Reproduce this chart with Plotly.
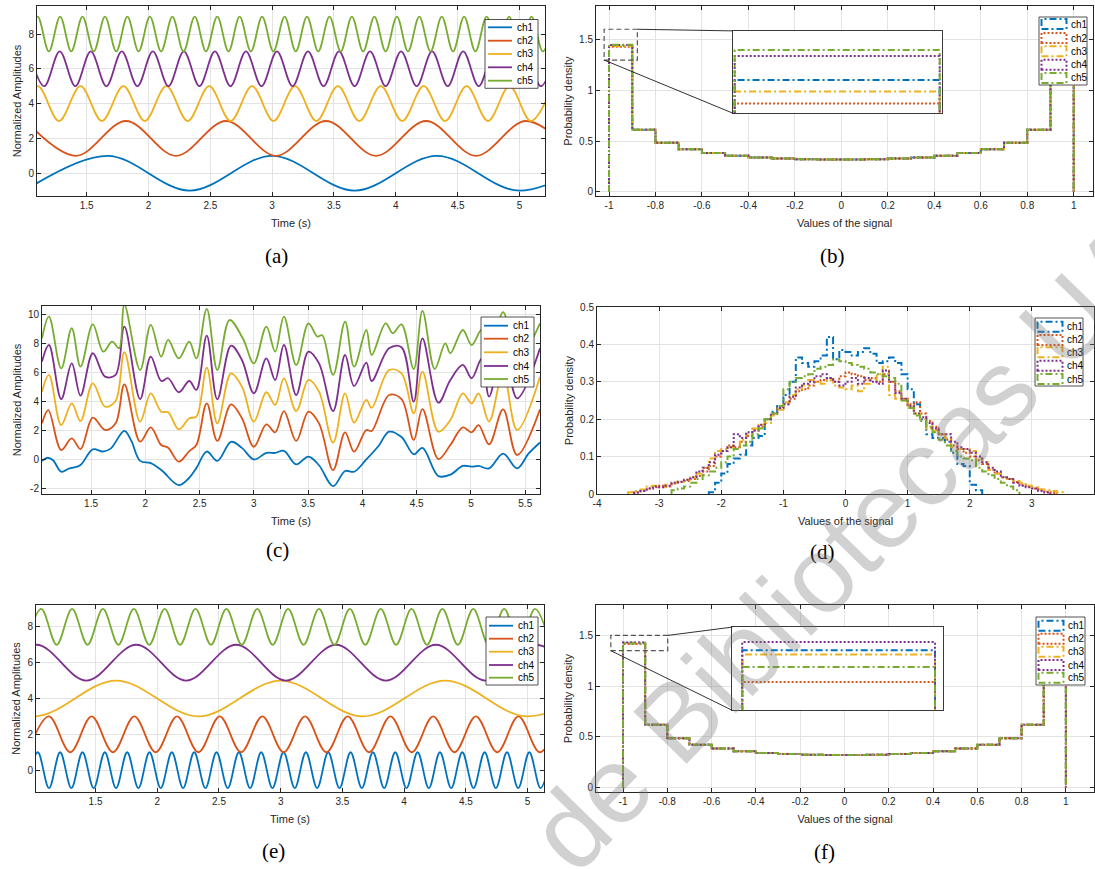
import plotly.graph_objects as go

W, H = 1095, 869
NAMES = ["ch1", "ch2", "ch3", "ch4", "ch5"]
COLORS = ["#0072BD", "#D95319", "#EDB120", "#7E2F8E", "#77AC30"]
LINE_W = 1.8
HIST_W = 2.0
HIST_DASH = ["7px,3px,2px,3px", "2px,2px", "7px,3px,2px,3px", "2px,2px", "7px,3px,2px,3px"]

# ---------------- panel (a): sinusoid extrema (time, value) ----------------
a_ch1_t = [1.0, 1.667, 2.333, 3.0, 3.667, 4.333, 5.0, 5.667]
a_ch1_y = [-1, 1, -1, 1, -1, 1, -1, 1]
a_ch2_t = [1.008, 1.413, 1.818, 2.222, 2.627, 3.031, 3.436, 3.840, 4.245, 4.649, 5.054, 5.458]
a_ch2_y = [3, 1, 3, 1, 3, 1, 3, 1, 3, 1, 3, 1]
a_ch3_t = [0.929, 1.103, 1.276, 1.450, 1.623, 1.797, 1.970, 2.144, 2.317, 2.491, 2.664, 2.838, 3.011,
           3.185, 3.358, 3.532, 3.705, 3.879, 4.052, 4.226, 4.399, 4.573, 4.746, 4.920, 5.093, 5.267]
a_ch3_y = [3, 5, 3, 5, 3, 5, 3, 5, 3, 5, 3, 5, 3, 5, 3, 5, 3, 5, 3, 5, 3, 5, 3, 5, 3, 5]
a_ch4_t = [1.031, 1.157, 1.282, 1.408, 1.533, 1.659, 1.784, 1.910, 2.035, 2.161, 2.286, 2.412,
           2.537, 2.663, 2.788, 2.914, 3.039, 3.165, 3.290, 3.416, 3.541, 3.667, 3.792, 3.918,
           4.043, 4.169, 4.294, 4.420, 4.545, 4.671, 4.796, 4.922, 5.047, 5.173, 5.298]
a_ch4_y = [7, 5, 7, 5, 7, 5, 7, 5, 7, 5, 7, 5, 7, 5, 7, 5, 7, 5, 7, 5, 7, 5, 7, 5,
           7, 5, 7, 5, 7, 5, 7, 5, 7, 5, 7]
a_ch5_t = [1.012, 1.103, 1.194, 1.285, 1.375, 1.466, 1.557, 1.648, 1.739, 1.829, 1.920, 2.011,
           2.102, 2.193, 2.283, 2.374, 2.465, 2.556, 2.647, 2.737, 2.828, 2.919, 3.010, 3.101,
           3.191, 3.282, 3.373, 3.464, 3.555, 3.645, 3.736, 3.827, 3.918, 4.009, 4.099, 4.190,
           4.281, 4.372, 4.463, 4.553, 4.644, 4.735, 4.826, 4.917, 5.007, 5.098, 5.189, 5.280]
a_ch5_y = [7, 9, 7, 9, 7, 9, 7, 9, 7, 9, 7, 9, 7, 9, 7, 9, 7, 9, 7, 9, 7, 9, 7, 9,
           7, 9, 7, 9, 7, 9, 7, 9, 7, 9, 7, 9, 7, 9, 7, 9, 7, 9, 7, 9, 7, 9, 7, 9]

# ---------------- panel (c): traced signal points (time, value) ----------------
c_ch1_t = [1.048, 1.10, 1.15, 1.225, 1.30, 1.40, 1.516, 1.61, 1.68, 1.807, 1.87, 1.952, 2.05, 2.15,
           2.308, 2.40, 2.47, 2.566, 2.663, 2.79, 2.89, 3.0, 3.115, 3.196, 3.277, 3.39, 3.503, 3.60,
           3.73, 3.84, 3.923, 4.036, 4.15, 4.246, 4.36, 4.473, 4.553, 4.70, 4.81, 4.925, 5.006, 5.07,
           5.167, 5.296, 5.425, 5.53, 5.636]
c_ch1_y = [-0.10, 0.12, -0.05, -0.85, -0.62, -0.40, 0.70, 0.55, 0.75, 1.98, 1.30, -0.10, -0.25, -0.75,
           -1.78, -1.30, -0.60, 0.55, -0.10, 1.22, 0.80, 0.0, 0.45, 0.45, 0.60, -0.34, 0.20, -0.40,
           -1.85, -0.80, -0.85, 0.0, 0.95, 1.92, 1.55, 0.36, 0.80, -1.15, -1.05, -0.45, -0.50, -0.45,
           -0.62, 0.40, -0.62, 0.40, 1.18]
c_ch2_t = [1.048, 1.106, 1.225, 1.322, 1.403, 1.516, 1.629, 1.726, 1.807, 1.952, 2.05, 2.146, 2.21,
           2.308, 2.405, 2.47, 2.566, 2.663, 2.79, 2.89, 3.0, 3.115, 3.196, 3.277, 3.39, 3.503, 3.6,
           3.73, 3.84, 3.923, 4.036, 4.085, 4.246, 4.36, 4.473, 4.553, 4.70, 4.81, 4.925, 5.006, 5.07,
           5.167, 5.296, 5.425, 5.636]
c_ch2_y = [2.50, 3.42, 0.65, 1.46, 0.72, 2.89, 2.04, 2.50, 5.20, 1.23, 2.22, 1.00, 0.81,
           -0.15, 0.58, 1.00, 3.88, 1.28, 3.81, 2.85, 0.88, 2.43, 1.88, 3.35, 1.28, 3.31, 2.50,
           -0.73, 1.88, 0.54, 2.04, 1.97, 4.46, 4.18, 1.35, 3.49, 0.03, 1.00, 2.22, 1.88, 2.38,
           1.05, 3.47, 0.31, 3.47]
c_ch3_t = [1.048, 1.112, 1.225, 1.322, 1.403, 1.516, 1.629, 1.726, 1.807, 1.952, 2.05, 2.146, 2.21,
           2.308, 2.405, 2.47, 2.566, 2.663, 2.79, 2.89, 3.0, 3.115, 3.196, 3.277, 3.39, 3.503, 3.6,
           3.73, 3.84, 3.923, 4.036, 4.085, 4.246, 4.36, 4.473, 4.553, 4.70, 4.81, 4.925, 5.006, 5.07,
           5.167, 5.296, 5.425, 5.636]
c_ch3_y = [4.69, 5.85, 2.38, 3.88, 2.66, 5.27, 3.65, 4.05, 7.42, 2.62, 4.58, 3.31, 3.26,
           2.08, 2.85, 2.96, 6.35, 2.50, 5.96, 5.04, 2.62, 4.65, 3.77, 5.61, 3.35, 5.50, 4.69,
           1.16, 4.58, 2.55, 4.12, 3.58, 6.19, 5.96, 3.19, 6.08, 1.92, 2.73, 4.58, 3.88, 4.58,
           2.62, 6.00, 2.04, 5.73]
c_ch4_t = [1.048, 1.112, 1.225, 1.322, 1.403, 1.516, 1.629, 1.726, 1.807, 1.952, 2.05, 2.146, 2.21,
           2.308, 2.405, 2.47, 2.566, 2.663, 2.79, 2.89, 3.0, 3.115, 3.196, 3.277, 3.39, 3.503, 3.6,
           3.73, 3.84, 3.923, 4.036, 4.085, 4.246, 4.36, 4.473, 4.553, 4.70, 4.81, 4.925, 5.006, 5.10,
           5.167, 5.296, 5.425, 5.636]
c_ch4_y = [6.77, 7.92, 4.18, 6.65, 4.42, 7.35, 5.73, 5.85, 9.19, 4.18, 7.12, 5.43, 5.62,
           4.65, 5.43, 4.81, 8.57, 4.16, 7.88, 6.88, 4.58, 7.00, 5.50, 7.92, 4.46, 7.46, 6.65,
           3.35, 7.23, 5.08, 6.70, 5.43, 7.69, 7.76, 4.00, 8.38, 3.93, 5.50, 6.54, 5.62, 7.00,
           4.35, 7.81, 4.23, 7.69]
c_ch5_t = [1.048, 1.112, 1.225, 1.322, 1.403, 1.516, 1.613, 1.694, 1.758, 1.807, 1.952, 2.05, 2.146,
           2.21, 2.308, 2.405, 2.47, 2.566, 2.663, 2.776, 2.90, 3.0, 3.115, 3.196, 3.277, 3.39, 3.503,
           3.585, 3.63, 3.73, 3.84, 3.923, 4.036, 4.085, 4.214, 4.28, 4.36, 4.473, 4.553, 4.666, 4.763,
           4.81, 4.925, 5.006, 5.10, 5.167, 5.296, 5.425, 5.636]
c_ch5_y = [8.38, 9.88, 6.31, 9.08, 6.42, 9.35, 7.46, 8.15, 7.69, 10.70, 6.19, 9.31, 7.12,
           8.27, 7.00, 8.15, 7.00, 10.42, 6.19, 9.65, 8.35, 6.65, 9.19, 7.46, 9.88, 6.54, 9.42,
           8.50, 8.60, 5.85, 9.54, 6.42, 8.96, 7.23, 9.42, 8.73, 9.35, 6.26, 10.28, 6.26, 8.04,
           7.35, 8.96, 7.92, 9.00, 7.00, 10.20, 6.88, 9.42]

# ---------------- panel (e): sinusoid extrema ----------------
e_ch1_t = [0.942, 1.032, 1.123, 1.213, 1.304, 1.394, 1.485, 1.575, 1.666, 1.756, 1.847, 1.937,
           2.028, 2.118, 2.209, 2.299, 2.390, 2.480, 2.571, 2.661, 2.752, 2.842, 2.933, 3.023,
           3.114, 3.204, 3.295, 3.385, 3.476, 3.566, 3.657, 3.747, 3.838, 3.928, 4.019, 4.109,
           4.200, 4.290, 4.381, 4.471, 4.562, 4.652, 4.743, 4.833, 4.924, 5.014, 5.105, 5.195]
e_ch1_y = [-1, 1, -1, 1, -1, 1, -1, 1, -1, 1, -1, 1, -1, 1, -1, 1, -1, 1, -1, 1, -1, 1, -1, 1,
           -1, 1, -1, 1, -1, 1, -1, 1, -1, 1, -1, 1, -1, 1, -1, 1, -1, 1, -1, 1, -1, 1, -1, 1]
e_ch2_t = [0.949, 1.122, 1.295, 1.468, 1.641, 1.814, 1.987, 2.160, 2.333, 2.506, 2.679, 2.851, 3.024,
           3.197, 3.370, 3.543, 3.716, 3.889, 4.062, 4.235, 4.408, 4.581, 4.754, 4.926, 5.099, 5.272]
e_ch2_y = [1, 3, 1, 3, 1, 3, 1, 3, 1, 3, 1, 3, 1, 3, 1, 3, 1, 3, 1, 3, 1, 3, 1, 3, 1, 3]
e_ch3_t = [0.333, 1.0, 1.667, 2.333, 3.0, 3.667, 4.333, 5.0, 5.667]
e_ch3_y = [5, 3, 5, 3, 5, 3, 5, 3, 5]
e_ch4_t = [0.616, 1.021, 1.425, 1.830, 2.234, 2.639, 3.043, 3.448, 3.852, 4.257, 4.661, 5.066, 5.470]
e_ch4_y = [5, 7, 5, 7, 5, 7, 5, 7, 5, 7, 5, 7, 5]
e_ch5_t = [0.935, 1.060, 1.185, 1.310, 1.435, 1.560, 1.685, 1.810, 1.935, 2.060, 2.185, 2.310,
           2.435, 2.560, 2.685, 2.810, 2.935, 3.060, 3.185, 3.310, 3.435, 3.560, 3.685, 3.810,
           3.935, 4.060, 4.185, 4.310, 4.435, 4.560, 4.685, 4.810, 4.935, 5.060, 5.185]
e_ch5_y = [7, 9, 7, 9, 7, 9, 7, 9, 7, 9, 7, 9, 7, 9, 7, 9, 7, 9, 7, 9, 7, 9, 7, 9,
           7, 9, 7, 9, 7, 9, 7, 9, 7, 9, 7]

# ---------------- panels (b), (f): histogram densities, bins of 0.1 from -1 ----------------
BIN_W = 0.1
bf_first_edge = -1.0
b_top = [1.4371, 1.4285, 1.4329, 1.4458, 1.4480]
b_rest = [0.612, 0.483, 0.421, 0.382, 0.357, 0.340, 0.329, 0.322, 0.319, 0.319,
          0.322, 0.329, 0.340, 0.357, 0.382, 0.421, 0.483, 0.612, 1.436]
f_top = [1.4267, 1.4152, 1.4251, 1.4296, 1.4206]
f_rest = [0.618, 0.485, 0.422, 0.383, 0.358, 0.341, 0.330, 0.323, 0.320, 0.320,
          0.323, 0.330, 0.341, 0.358, 0.383, 0.422, 0.485, 0.618, 1.425]

# ---------------- panel (d): histogram densities, bins of 0.1 ----------------
d_first_edge = [-2.2, -3.4, -3.5, -3.4, -2.8]
d_ch1 = [0.005, 0.030, 0.055, 0.080, 0.095, 0.105, 0.130, 0.150, 0.155, 0.200, 0.220, 0.235, 0.265,
         0.300, 0.365, 0.350, 0.340, 0.355, 0.370, 0.420, 0.360, 0.385, 0.380, 0.370, 0.380, 0.390,
         0.375, 0.350, 0.355, 0.365, 0.350, 0.320, 0.280, 0.240, 0.200, 0.160, 0.150, 0.150, 0.140,
         0.110, 0.080, 0.075, 0.025, 0.010]
d_ch2 = [0.004, 0.008, 0.015, 0.018, 0.022, 0.020, 0.028, 0.032, 0.035, 0.040, 0.048, 0.060, 0.075,
         0.100, 0.115, 0.130, 0.125, 0.140, 0.155, 0.170, 0.180, 0.200, 0.215, 0.230, 0.240, 0.255,
         0.275, 0.280, 0.290, 0.300, 0.305, 0.310, 0.300, 0.315, 0.325, 0.320, 0.315, 0.305, 0.310,
         0.300, 0.320, 0.300, 0.275, 0.255, 0.240, 0.245, 0.215, 0.195, 0.180, 0.160, 0.145, 0.130,
         0.120, 0.110, 0.100, 0.090, 0.080, 0.065, 0.055, 0.045, 0.040, 0.032, 0.025, 0.020, 0.015,
         0.012, 0.006, 0.003]
d_ch3 = [0.005, 0.008, 0.012, 0.020, 0.022, 0.018, 0.025, 0.030, 0.033, 0.038, 0.045, 0.055, 0.070,
         0.095, 0.115, 0.120, 0.125, 0.120, 0.145, 0.160, 0.175, 0.185, 0.190, 0.210, 0.225, 0.245,
         0.265, 0.280, 0.290, 0.305, 0.300, 0.295, 0.305, 0.290, 0.285, 0.280, 0.290, 0.275, 0.295,
         0.305, 0.320, 0.340, 0.265, 0.255, 0.250, 0.235, 0.215, 0.200, 0.175, 0.170, 0.160, 0.150,
         0.125, 0.120, 0.120, 0.115, 0.095, 0.085, 0.065, 0.055, 0.045, 0.040, 0.035, 0.030, 0.022,
         0.018, 0.012, 0.010, 0.008, 0.005]
d_ch4 = [0.004, 0.008, 0.015, 0.020, 0.018, 0.022, 0.030, 0.033, 0.038, 0.045, 0.060, 0.070, 0.085,
         0.105, 0.115, 0.125, 0.160, 0.150, 0.165, 0.170, 0.185, 0.200, 0.215, 0.230, 0.240, 0.260,
         0.285, 0.295, 0.300, 0.315, 0.320, 0.310, 0.300, 0.290, 0.300, 0.310, 0.295, 0.310, 0.300,
         0.295, 0.330, 0.300, 0.270, 0.255, 0.235, 0.215, 0.205, 0.190, 0.175, 0.160, 0.160, 0.140,
         0.125, 0.120, 0.110, 0.100, 0.085, 0.070, 0.060, 0.045, 0.040, 0.030, 0.022, 0.018, 0.015,
         0.008, 0.004]
d_ch5 = [0.010, 0.015, 0.020, 0.030, 0.040, 0.050, 0.060, 0.070, 0.085, 0.100, 0.120, 0.130, 0.140,
         0.160, 0.175, 0.200, 0.215, 0.235, 0.280, 0.300, 0.310, 0.315, 0.320, 0.335, 0.340, 0.345,
         0.360, 0.355, 0.350, 0.345, 0.340, 0.335, 0.325, 0.320, 0.315, 0.310, 0.295, 0.250, 0.230,
         0.210, 0.195, 0.180, 0.165, 0.145, 0.130, 0.115, 0.100, 0.095, 0.090, 0.070, 0.060, 0.050,
         0.040, 0.030, 0.020, 0.010]

# ---------------- tick labels ----------------
t_ticks_ae = [1.5, 2, 2.5, 3, 3.5, 4, 4.5, 5]
t_labels_ae = ["1.5", "2", "2.5", "3", "3.5", "4", "4.5", "5"]
t_ticks_c = [1.5, 2, 2.5, 3, 3.5, 4, 4.5, 5, 5.5]
t_labels_c = ["1.5", "2", "2.5", "3", "3.5", "4", "4.5", "5", "5.5"]
amp_ticks_ae = [0, 2, 4, 6, 8]
amp_labels_ae = ["0", "2", "4", "6", "8"]
amp_ticks_c = [-2, 0, 2, 4, 6, 8, 10]
amp_labels_c = ["-2", "0", "2", "4", "6", "8", "10"]
sig_ticks_bf = [-1, -0.8, -0.6, -0.4, -0.2, 0, 0.2, 0.4, 0.6, 0.8, 1]
sig_labels_bf = ["-1", "-0.8", "-0.6", "-0.4", "-0.2", "0", "0.2", "0.4", "0.6", "0.8", "1"]
pd_ticks_bf = [0, 0.5, 1, 1.5]
pd_labels_bf = ["0", "0.5", "1", "1.5"]
sig_ticks_d = [-4, -3, -2, -1, 0, 1, 2, 3, 4]
sig_labels_d = ["-4", "-3", "-2", "-1", "0", "1", "2", "3", "4"]
pd_ticks_d = [0, 0.1, 0.2, 0.3, 0.4, 0.5]
pd_labels_d = ["0", "0.1", "0.2", "0.3", "0.4", "0.5"]

# ---------------- layout (pixel boxes: left, top, right, bottom) ----------------
BOX = {
    "a": (37, 6, 545, 196),
    "b": (596, 6, 1093, 196),
    "c": (42, 306, 540, 494),
    "d": (597, 307, 1094, 494),
    "e": (36, 605, 544, 792),
    "f": (596, 605, 1094, 792),
}
XR = {"a": [1.098, 5.207], "b": [-1.056, 1.083], "c": [1.048, 5.636],
      "d": [-4, 4], "e": [1.0175, 5.133], "f": [-1.122, 1.127]}
YR = {"a": [-1.31, 9.61], "b": [-0.04, 1.83], "c": [-2.39, 10.62],
      "d": [0, 0.5], "e": [-1.22, 9.22], "f": [-0.045, 1.80]}
IDX = {"a": 1, "b": 2, "c": 3, "d": 4, "e": 5, "f": 6}

AXC = "#262626"
GRID = "#e3e3e3"


def sfx(i):
    return "" if i == 1 else str(i)


def dom_x(l, r):
    return [l / W, r / W]


def dom_y(t, b):
    return [1 - b / H, 1 - t / H]


def P(x, y):
    return x / W, 1 - y / H


def base_axis(**kw):
    d = dict(showline=True, linecolor=AXC, linewidth=1, mirror="ticks", ticks="inside",
             ticklen=4, tickwidth=1, tickcolor=AXC, showgrid=True, gridcolor=GRID, gridwidth=1,
             zeroline=False, tickfont=dict(family="Liberation Sans", size=10, color=AXC),
             fixedrange=True, automargin=False)
    d.update(kw)
    return d


fig = go.Figure()


def add_lines(key, ts, ys):
    i = IDX[key]
    for k in range(5):
        fig.add_trace(go.Scatter(x=ts[k], y=ys[k], mode="lines",
                                 line=dict(color=COLORS[k], width=LINE_W, shape="spline", smoothing=1.0),
                                 xaxis="x" + sfx(i), yaxis="y" + sfx(i), showlegend=False,
                                 hoverinfo="skip"))


def stairs(start, vals):
    edges = [round(start + BIN_W * j, 4) for j in range(len(vals) + 1)]
    xs = [edges[0]] + edges[:-1] + [edges[-1]]
    ys = [0] + list(vals) + [0]
    return xs, ys


def add_hist(i, starts, vals_list):
    for k in range(5):
        xs, ys = stairs(starts[k], vals_list[k])
        fig.add_trace(go.Scatter(x=xs, y=ys, mode="lines",
                                 line=dict(color=COLORS[k], width=HIST_W, shape="hv", dash=HIST_DASH[k]),
                                 xaxis="x" + sfx(i), yaxis="y" + sfx(i), showlegend=False,
                                 hoverinfo="skip"))


add_lines("a", [a_ch1_t, a_ch2_t, a_ch3_t, a_ch4_t, a_ch5_t], [a_ch1_y, a_ch2_y, a_ch3_y, a_ch4_y, a_ch5_y])
b_vals = [[b_top[k]] + b_rest for k in range(5)]
add_hist(2, [bf_first_edge] * 5, b_vals)
add_lines("c", [c_ch1_t, c_ch2_t, c_ch3_t, c_ch4_t, c_ch5_t], [c_ch1_y, c_ch2_y, c_ch3_y, c_ch4_y, c_ch5_y])
add_hist(4, d_first_edge, [d_ch1, d_ch2, d_ch3, d_ch4, d_ch5])
add_lines("e", [e_ch1_t, e_ch2_t, e_ch3_t, e_ch4_t, e_ch5_t], [e_ch1_y, e_ch2_y, e_ch3_y, e_ch4_y, e_ch5_y])
f_vals = [[f_top[k]] + f_rest for k in range(5)]
add_hist(6, [bf_first_edge] * 5, f_vals)

layout = {}
XT = {"a": (t_ticks_ae, t_labels_ae, "Time (s)"), "c": (t_ticks_c, t_labels_c, "Time (s)"),
      "e": (t_ticks_ae, t_labels_ae, "Time (s)"),
      "b": (sig_ticks_bf, sig_labels_bf, "Values of the signal"),
      "d": (sig_ticks_d, sig_labels_d, "Values of the signal"),
      "f": (sig_ticks_bf, sig_labels_bf, "Values of the signal")}
YT = {"a": (amp_ticks_ae, amp_labels_ae, "Normalized Amplitudes"),
      "c": (amp_ticks_c, amp_labels_c, "Normalized Amplitudes"),
      "e": (amp_ticks_ae, amp_labels_ae, "Normalized Amplitudes"),
      "b": (pd_ticks_bf, pd_labels_bf, "Probability density"),
      "d": (pd_ticks_d, pd_labels_d, "Probability density"),
      "f": (pd_ticks_bf, pd_labels_bf, "Probability density")}

for key, i in IDX.items():
    l, t, r, b = BOX[key]
    xt, xl, xtitle = XT[key]
    yt, yl, ytitle = YT[key]
    layout["xaxis" + sfx(i)] = base_axis(domain=dom_x(l, r), range=XR[key], anchor="y" + sfx(i),
                                         tickvals=xt, ticktext=xl,
                                         title=dict(text=xtitle, font=dict(size=11, color=AXC), standoff=9))
    layout["yaxis" + sfx(i)] = base_axis(domain=dom_y(t, b), range=YR[key], anchor="x" + sfx(i),
                                         tickvals=yt, ticktext=yl,
                                         title=dict(text=ytitle, font=dict(size=11, color=AXC), standoff=4))

shapes = []
annotations = []

# ---------------- insets for (b) and (f) ----------------
INSET = {
    7: dict(parent="b", box=(-0.468, 0.776, 0.432, 1.585), src=(-1.021, 1.298, -0.878, 1.601),
            xr=[-1.001, -0.899], yr=[1.425, 1.455], vals=b_vals),
    8: dict(parent="f", box=(-0.506, 0.760, 0.4455, 1.582), src=(-1.055, 1.349, -0.798, 1.500),
            xr=[-1.0051, -0.8958], yr=[1.405, 1.435], vals=f_vals),
}
for j, spec in INSET.items():
    pk = spec["parent"]
    pi = IDX[pk]
    l, t, r, b = BOX[pk]
    x0, y0, x1, y1 = spec["box"]
    xr, yr = XR[pk], YR[pk]
    pl = l + (x0 - xr[0]) / (xr[1] - xr[0]) * (r - l)
    pr = l + (x1 - xr[0]) / (xr[1] - xr[0]) * (r - l)
    pb = b - (y0 - yr[0]) / (yr[1] - yr[0]) * (b - t)
    pt = b - (y1 - yr[0]) / (yr[1] - yr[0]) * (b - t)
    layout["xaxis%d" % j] = dict(domain=dom_x(pl, pr), range=spec["xr"], anchor="y%d" % j,
                                 showline=True, mirror=True, linecolor="#3a3a3a", linewidth=1,
                                 showticklabels=False, ticks="", showgrid=False, zeroline=False,
                                 fixedrange=True)
    layout["yaxis%d" % j] = dict(domain=dom_y(pt, pb), range=spec["yr"], anchor="x%d" % j,
                                 showline=True, mirror=True, linecolor="#3a3a3a", linewidth=1,
                                 showticklabels=False, ticks="", showgrid=False, zeroline=False,
                                 fixedrange=True)
    shapes.append(dict(type="rect", xref="x" + sfx(pi), yref="y" + sfx(pi), x0=x0, x1=x1, y0=y0, y1=y1,
                       fillcolor="white", line=dict(width=0), layer="between"))
    for k in range(5):
        xs, ys = stairs(bf_first_edge, spec["vals"][k])
        fig.add_trace(go.Scatter(x=xs, y=ys, mode="lines",
                                 line=dict(color=COLORS[k], width=HIST_W, shape="hv", dash=HIST_DASH[k]),
                                 xaxis="x%d" % j, yaxis="y%d" % j, showlegend=False, hoverinfo="skip"))
    sx0, sy0, sx1, sy1 = spec["src"]
    ref = dict(xref="x" + sfx(pi), yref="y" + sfx(pi))
    shapes.append(dict(type="rect", x0=sx0, x1=sx1, y0=sy0, y1=sy1,
                       line=dict(color="#555555", width=1.2, dash="5px,3px"), layer="above", **ref))
    shapes.append(dict(type="line", x0=sx1, y0=sy1, x1=x0, y1=y1,
                       line=dict(color="#1a1a1a", width=0.9), layer="above", **ref))
    shapes.append(dict(type="line", x0=sx0, y0=sy0, x1=x0, y1=y0,
                       line=dict(color="#1a1a1a", width=0.9), layer="above", **ref))

# ---------------- legends ----------------
LEG = {
    "a": dict(box=(485, 19.5, 538, 88.3), rows=[27.3, 40.7, 54.0, 67.3, 80.7], kind="line"),
    "b": dict(box=(1039, 17, 1087, 85), rows=[24.0, 38.0, 51.3, 64.7, 78.0], kind="patch"),
    "c": dict(box=(481, 317, 534, 387), rows=[325.7, 338.7, 352.3, 366.0, 379.0], kind="line"),
    "d": dict(box=(1035, 318, 1083, 386), rows=[326.7, 340.0, 352.3, 365.7, 379.0], kind="patch"),
    "e": dict(box=(486, 617, 538, 685), rows=[625.7, 638.7, 651.7, 665.0, 677.7], kind="line"),
    "f": dict(box=(1036, 617, 1085, 685), rows=[625.7, 638.7, 651.7, 665.0, 677.7], kind="patch"),
}
for key, spec in LEG.items():
    x0, y0, x1, y1 = spec["box"]
    a0, b0 = P(x0, y0)
    a1, b1 = P(x1, y1)
    shapes.append(dict(type="rect", xref="paper", yref="paper", x0=a0, x1=a1, y0=b1, y1=b0,
                       line=dict(color=AXC, width=0.8), fillcolor="white", layer="above"))
    for k, ry in enumerate(spec["rows"]):
        if spec["kind"] == "line":
            p0, q0 = P(x0 + 3, ry)
            p1, q1 = P(x0 + 27, ry)
            shapes.append(dict(type="line", xref="paper", yref="paper", x0=p0, y0=q0, x1=p1, y1=q1,
                               line=dict(color=COLORS[k], width=LINE_W), layer="above"))
        else:
            p0, q0 = P(x0 + 2.5, ry - 5)
            p1, q1 = P(x0 + 27.5, ry + 5)
            shapes.append(dict(type="rect", xref="paper", yref="paper", x0=p0, x1=p1, y0=q1, y1=q0,
                               line=dict(color=COLORS[k], width=HIST_W, dash=HIST_DASH[k]),
                               fillcolor="rgba(0,0,0,0)", layer="above"))
        tx, ty = P(x0 + 29.5, ry)
        annotations.append(dict(x=tx, y=ty, xref="paper", yref="paper", text=NAMES[k], showarrow=False,
                                xanchor="left", yanchor="middle",
                                font=dict(family="Liberation Sans", size=10, color="#000000")))

# ---------------- sub-figure labels ----------------
SUBLAB = {"(a)": (276, 256), "(b)": (833, 256), "(c)": (277, 550),
          "(d)": (822, 552), "(e)": (273, 851), "(f)": (824, 852)}
for txt, (x, y) in SUBLAB.items():
    px, py = P(x, y)
    annotations.append(dict(x=px, y=py, xref="paper", yref="paper", text=txt, showarrow=False,
                            xanchor="center", yanchor="middle",
                            font=dict(family="Liberation Serif", size=21, color="#000000")))

# ---------------- watermark ----------------
wx, wy = P(846, 546)
annotations.append(dict(x=wx, y=wy, xref="paper", yref="paper", text="de Bibliotecas UA",
                        showarrow=False, textangle=-45.7, xanchor="center", yanchor="middle",
                        font=dict(family="Liberation Sans", size=108, color="rgba(120,120,120,0.34)")))

fig.update_layout(width=W, height=H, margin=dict(l=0, r=0, t=0, b=0), paper_bgcolor="white",
                  plot_bgcolor="white", showlegend=False, font=dict(family="Liberation Sans", color=AXC),
                  shapes=shapes, annotations=annotations, **layout)
fig.write_html("out.html")
